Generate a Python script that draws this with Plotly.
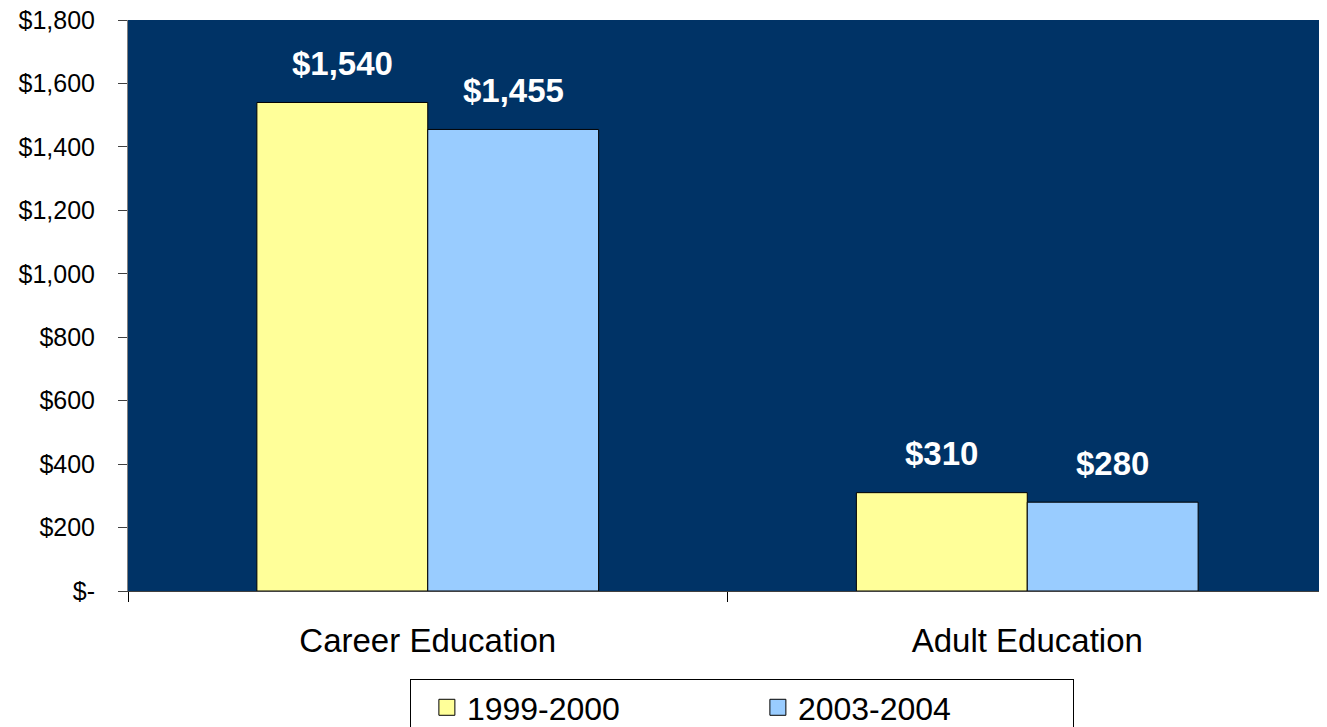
import plotly.graph_objects as go

categories = ["Career Education", "Adult Education"]
series_names = ["1999-2000", "2003-2004"]
values_1999 = [1540, 310]
values_2003 = [1455, 280]
tick_vals = [0, 200, 400, 600, 800, 1000, 1200, 1400, 1600, 1800]
tick_text = ["$-", "$200", "$400", "$600", "$800", "$1,000", "$1,200", "$1,400", "$1,600", "$1,800"]

colors = ["#FFFF99", "#99CCFF"]
FONT = "Liberation Sans, Arial, sans-serif"
BARGAP = 0.43

def fmt(v):
    return "$" + format(v, ",")

fig = go.Figure()
series = [values_1999, values_2003]
for name, vals, col in zip(series_names, series, colors):
    fig.add_trace(go.Bar(
        x=categories, y=vals, name=name, showlegend=False,
        marker=dict(color=col, line=dict(color="#000000", width=1)),
    ))
# legend entries with larger square swatches
for name, col in zip(series_names, colors):
    fig.add_trace(go.Scatter(
        x=[None], y=[None], name=name, mode="markers",
        marker=dict(symbol="square", size=18, color=col, line=dict(color="#000000", width=1)),
    ))

# data labels above each bar
n = len(series)
bw = (1 - BARGAP) / n
annotations = []
for si, vals in enumerate(series):
    off = -(1 - BARGAP) / 2 + bw * (si + 0.5)
    for ci, v in enumerate(vals):
        annotations.append(dict(
            x=ci + off, y=v, xref="x", yref="y", text="<b>" + fmt(v) + "</b>",
            showarrow=False, yanchor="middle", yshift=39,
            font=dict(family=FONT, size=33, color="#FFFFFF"),
        ))

fig.update_layout(
    width=1319, height=719,
    margin=dict(l=120, r=0, t=12, b=136, autoexpand=False),
    paper_bgcolor="#FFFFFF",
    plot_bgcolor="#003366",
    barmode="group",
    bargap=BARGAP,
    bargroupgap=0,
    font=dict(family=FONT, size=26, color="#000000"),
    showlegend=True,
    annotations=annotations,
    legend=dict(
        orientation="h", x=0.512, xanchor="center", y=-0.1541, yanchor="top",
        bordercolor="#000000", borderwidth=1, bgcolor="#FFFFFF",
        font=dict(size=32), entrywidth=270, entrywidthmode="pixels",
        indentation=16,
    ),
)
fig.update_xaxes(
    type="category", tickson="boundaries", ticks="outside", ticklen=10,
    tickcolor="#000000", showline=True, linecolor="#404040", linewidth=1,
    showgrid=False, tickfont=dict(size=33), ticklabelstandoff=20,
    range=[-0.5, 1.5], automargin=False,
)
fig.update_yaxes(
    range=[0, 1800], tickvals=tick_vals, ticktext=tick_text,
    ticks="outside", ticklen=9, tickcolor="#404040",
    showline=True, linecolor="#808080", linewidth=1,
    showgrid=False, zeroline=False, tickfont=dict(size=25),
    ticklabelstandoff=18, ticklabeloverflow="allow", automargin=False,
)
fig.write_html("out.html")
